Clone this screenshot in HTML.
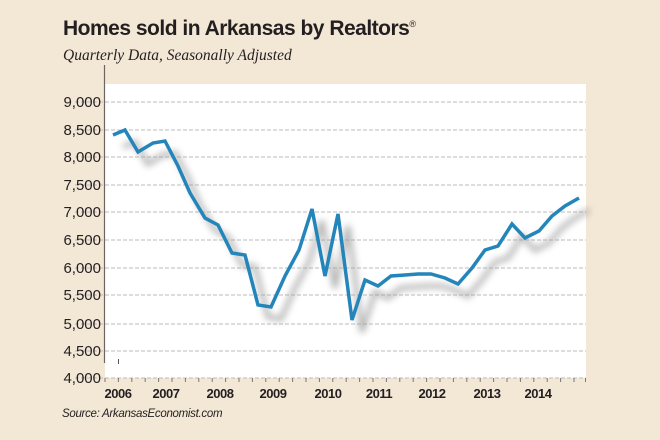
<!DOCTYPE html>
<html><head><meta charset="utf-8"><style>
html,body{margin:0;padding:0;}
body{width:660px;height:440px;background:#f3e7d5;position:relative;overflow:hidden;font-family:"Liberation Sans",sans-serif;}
.t{position:absolute;left:63px;top:17px;font-size:21px;font-weight:bold;color:#231f20;letter-spacing:-0.5px;}
.s{position:absolute;left:63px;top:47px;font-family:"Liberation Serif",serif;font-style:italic;font-size:15.5px;color:#231f20;}
.src{position:absolute;left:62px;top:408px;font-size:11.5px;font-style:italic;color:#231f20;letter-spacing:-0.3px;}
</style></head><body>
<div class="t">Homes sold in Arkansas by Realtors<sup style="font-size:9px;font-weight:normal">®</sup></div>
<div class="s">Quarterly Data, Seasonally Adjusted</div>
<svg width="660" height="440" style="position:absolute;left:0;top:0">
<defs><filter id="b" x="-20%" y="-20%" width="140%" height="140%"><feGaussianBlur stdDeviation="3.5"/></filter></defs>
<rect x="105" y="84" width="481" height="294" fill="#fff"/>
<g stroke="#bbb" stroke-width="1" stroke-dasharray="4,2">
<line x1="75" x2="586" y1="102" y2="102"/><line x1="75" x2="586" y1="130" y2="130"/><line x1="75" x2="586" y1="157" y2="157"/><line x1="75" x2="586" y1="185" y2="185"/><line x1="75" x2="586" y1="212" y2="212"/><line x1="75" x2="586" y1="240" y2="240"/><line x1="75" x2="586" y1="268" y2="268"/><line x1="75" x2="586" y1="295" y2="295"/><line x1="75" x2="586" y1="324" y2="324"/><line x1="75" x2="586" y1="351" y2="351"/><line x1="75" x2="586" y1="378" y2="378"/>
</g>
<line x1="104.5" y1="65" x2="104.5" y2="363" stroke="#6d6560" stroke-width="1.2"/>
<line x1="118.5" y1="359" x2="118.5" y2="364" stroke="#555" stroke-width="1"/>
<g stroke="#777" stroke-width="1">
<path d="M105 378v4M118.4 378v4M131.8 378v4M145.2 378v4M158.6 378v4M172 378v4M185.4 378v4M198.8 378v4M212.2 378v4M225.6 378v4M239 378v4M252.4 378v4M265.8 378v4M279.2 378v4M292.6 378v4M306 378v4M319.4 378v4M332.8 378v4M346.2 378v4M359.6 378v4M373 378v4M386.4 378v4M399.8 378v4M413.2 378v4M426.6 378v4M440 378v4M453.4 378v4M466.8 378v4M480.2 378v4M493.6 378v4M507 378v4M520.4 378v4M533.8 378v4M547.2 378v4M560.6 378v4M574 378v4M585.5 378v4"/>
</g>
<g font-size="15" fill="#231f20" text-anchor="end" font-family="Liberation Sans, sans-serif">
<text x="101" y="107">9,000</text><text x="101" y="135">8,500</text><text x="101" y="162">8,000</text><text x="101" y="190">7,500</text><text x="101" y="217">7,000</text><text x="101" y="245">6,500</text><text x="101" y="273">6,000</text><text x="101" y="300">5,500</text><text x="101" y="329">5,000</text><text x="101" y="356">4,500</text><text x="101" y="383">4,000</text>
</g>
<g font-size="13" font-weight="bold" fill="#231f20" text-anchor="middle" letter-spacing="-0.5">
<text x="118" y="398">2006</text><text x="166" y="398">2007</text><text x="220" y="398">2008</text><text x="273" y="398">2009</text><text x="328" y="398">2010</text><text x="379" y="398">2011</text><text x="432" y="398">2012</text><text x="487" y="398">2013</text><text x="538" y="398">2014</text>
</g>
<polyline transform="translate(10,12)" filter="url(#b)" fill="none" stroke="#999" stroke-width="5" opacity="0.7" points="113,135 125,130 138,152 153,143 165,141 178,166 190,193 205,218 218,225 232,253 245,255 258,305 271,307 285,276 299,250 312,209 325,276 338,214 352,320 365,280 378,286 391,276 405,275 418,274 431,274 445,278 458,284 472,268 485,250 498,246 512,224 525,238 539,231 552,216 565,206 579,198"/>
<polyline fill="none" stroke="#2385ba" stroke-width="3.5" stroke-linejoin="miter" points="113,135 125,130 138,152 153,143 165,141 178,166 190,193 205,218 218,225 232,253 245,255 258,305 271,307 285,276 299,250 312,209 325,276 338,214 352,320 365,280 378,286 391,276 405,275 418,274 431,274 445,278 458,284 472,268 485,250 498,246 512,224 525,238 539,231 552,216 565,206 579,198"/>
</svg>
<div class="src">Source: ArkansasEconomist.com</div>
</body></html>
